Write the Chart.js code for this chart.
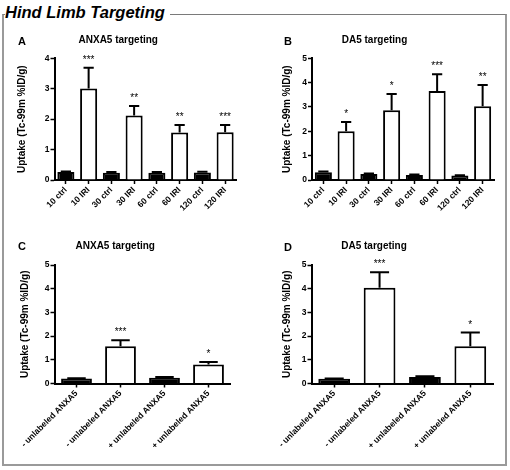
<!DOCTYPE html>
<html>
<head>
<meta charset="utf-8">
<script src="https://cdn.jsdelivr.net/npm/chart.js@4.4.0/dist/chart.umd.min.js"></script>
<style>
    html, body { margin: 0; padding: 0; background: #fff; }
    #page { position: relative; width: 510px; height: 470px; overflow: hidden; font-family: Arial, "Liberation Sans", sans-serif; }
    #frame { position: absolute; left: 2px; top: 14px; width: 501px; height: 449px; border: 2px solid #9a9a9a; border-top: 1px solid #7a7a7a; }
    #mainTitle { position: absolute; left: 5px; top: 1px; padding-right: 5px; background: #fff; font: italic bold 16.5px Arial, "Liberation Sans", sans-serif; line-height: 22px; color: #000; }
    .panel { position: absolute; }
    .letter { position: absolute; font: bold 11px Arial, "Liberation Sans", sans-serif; line-height: 12px; color: #000; }
</style>
</head>
<body>
<div id="page">
    <div id="frame"></div>
    <div id="mainTitle">Hind Limb Targeting</div>

    <div class="panel" style="left:0;top:28px;"><canvas id="chartA" width="255" height="212"></canvas></div>
    <div class="panel" style="left:255px;top:28px;"><canvas id="chartB" width="255" height="212"></canvas></div>
    <div class="panel" style="left:0;top:233px;"><canvas id="chartC" width="255" height="232"></canvas></div>
    <div class="panel" style="left:255px;top:233px;"><canvas id="chartD" width="255" height="232"></canvas></div>

    <div class="letter" style="left:18px;top:35px;">A</div>
    <div class="letter" style="left:284px;top:35px;">B</div>
    <div class="letter" style="left:18px;top:240px;">C</div>
    <div class="letter" style="left:284px;top:241px;">D</div>
</div>

<script>
(function () {
    'use strict';

    // =================== Datos ===================

    const timeGroups = ['10 ctrl', '10 IRI', '30 ctrl', '30 IRI', '60 ctrl', '60 IRI', '120 ctrl', '120 IRI'];
    const blockGroups = ['- unlabeled ANXA5', '- unlabeled ANXA5', '+ unlabeled ANXA5', '+ unlabeled ANXA5'];

    const yTicksA = [0, 1, 2, 3, 4];
    const yTicksBCD = [0, 1, 2, 3, 4, 5];

    // A: ANXA5 targeting
    const anxa5Means = [0.26, 3.01, 0.24, 2.12, 0.24, 1.56, 0.25, 1.57];
    const anxa5Errors = [0.02, 0.68, 0.02, 0.31, 0.02, 0.25, 0.02, 0.24];
    const anxa5Stars = ['', '***', '', '**', '', '**', '', '***'];

    // B: DA5 targeting
    const da5Means = [0.32, 2.00, 0.25, 2.87, 0.21, 3.66, 0.18, 3.03];
    const da5Errors = [0.03, 0.38, 0.02, 0.66, 0.02, 0.68, 0.02, 0.87];
    const da5Stars = ['', '*', '', '*', '', '***', '', '**'];

    // C: ANXA5 targeting (bloqueo)
    const anxa5BlockMeans = [0.21, 1.57, 0.24, 0.80];
    const anxa5BlockErrors = [0.01, 0.25, 0.03, 0.11];
    const anxa5BlockStars = ['', '***', '', '*'];

    // D: DA5 targeting (bloqueo)
    const da5BlockMeans = [0.20, 4.04, 0.27, 1.57];
    const da5BlockErrors = [0.01, 0.65, 0.04, 0.58];
    const da5BlockStars = ['', '***', '', '*'];

    // =================== Plugin barras de error ===================

    const errorBarsPlugin = {
        id: 'errorBars',
        afterDatasetsDraw(chart, args, opts) {
            const ctx = chart.ctx;
            const y = chart.scales.y;
            const meta = chart.getDatasetMeta(0);
            const values = chart.data.datasets[0].data;
            const errors = opts.errors || [];
            const stars = opts.stars || [];

            ctx.save();
            ctx.strokeStyle = '#000';
            ctx.fillStyle = '#000';
            ctx.lineWidth = 2;
            meta.data.forEach(function (bar, i) {
                const err = errors[i] || 0;
                const yTop = y.getPixelForValue(values[i] + err);
                const half = bar.width * 0.3;
                if (err > 0) {
                    ctx.beginPath();
                    ctx.moveTo(bar.x, bar.y);
                    ctx.lineTo(bar.x, yTop);
                    ctx.moveTo(bar.x - half, yTop);
                    ctx.lineTo(bar.x + half, yTop);
                    ctx.stroke();
                }
                if (stars[i]) {
                    ctx.font = '10px Arial, "Liberation Sans", sans-serif';
                    ctx.textAlign = 'center';
                    ctx.textBaseline = 'alphabetic';
                    ctx.fillText(stars[i], bar.x, yTop - 5);
                }
            });
            ctx.restore();
        }
    };

    // =================== Charts ===================

    function buildPanel(id, title, labels, values, errors, stars, yTicks, lay) {
        const canvas = document.getElementById(id);
        if (!canvas || typeof Chart === 'undefined') return null;

        const yMax = yTicks[yTicks.length - 1];

        return new Chart(canvas.getContext('2d'), {
            type: 'bar',
            data: {
                labels: labels,
                datasets: [{
                    data: values,
                    backgroundColor: values.map((v, i) => i % 2 === 0 ? '#000' : '#fff'),
                    borderColor: '#000',
                    borderWidth: 2,
                    borderSkipped: 'bottom',
                    barPercentage: lay.barPct,
                    categoryPercentage: 1
                }]
            },
            options: {
                responsive: false,
                animation: false,
                layout: { padding: { left: 0, right: lay.padRight, top: 0, bottom: 0 } },
                plugins: {
                    legend: { display: false },
                    tooltip: { enabled: false },
                    title: {
                        display: true,
                        text: title,
                        color: '#000',
                        font: { family: 'Arial, "Liberation Sans", sans-serif', size: 10, weight: 'bold' },
                        padding: { top: lay.titleTop, bottom: lay.titleBottom }
                    },
                    errorBars: { errors: errors, stars: stars }
                },
                scales: {
                    x: {
                        afterFit: function (s) { s.height = lay.xHeight; },
                        border: { display: true, color: '#000', width: 2 },
                        grid: {
                            display: true,
                            drawOnChartArea: false,
                            offset: false,
                            tickLength: 4,
                            tickColor: '#000',
                            tickWidth: 1.5
                        },
                        ticks: {
                            color: '#000',
                            minRotation: 45,
                            maxRotation: 45,
                            autoSkip: false,
                            padding: 1,
                            font: { family: 'Arial, "Liberation Sans", sans-serif', size: 8.5, weight: 'bold' }
                        }
                    },
                    y: {
                        min: 0,
                        max: yMax,
                        afterFit: function (s) { s.width = lay.yWidth; },
                        afterBuildTicks: function (s) { s.ticks = yTicks.map(v => ({ value: v })); },
                        border: { display: true, color: '#000', width: 2 },
                        grid: {
                            display: true,
                            drawOnChartArea: false,
                            tickLength: 4,
                            tickColor: '#000',
                            tickWidth: 1.5
                        },
                        ticks: {
                            color: '#000',
                            padding: 1,
                            font: { family: 'Arial, "Liberation Sans", sans-serif', size: 8.5, weight: 'bold' }
                        },
                        title: {
                            display: true,
                            text: 'Uptake (Tc-99m %ID/g)',
                            color: '#000',
                            font: { family: 'Arial, "Liberation Sans", sans-serif', size: 10, weight: 'bold' },
                            padding: { top: lay.yTitlePad, bottom: 0 }
                        }
                    }
                }
            },
            plugins: [errorBarsPlugin]
        });
    }

    // =================== Init ===================

    const topRow = { titleTop: 6.7, titleBottom: 11.6, xHeight: 60 };
    const bottomRow = { titleTop: 7, titleBottom: 13, xHeight: 81.5 };

    buildPanel('chartA', 'ANXA5 targeting', timeGroups, anxa5Means, anxa5Errors, anxa5Stars, yTicksA,
        Object.assign({ yWidth: 54.5, padRight: 18.5, yTitlePad: 16, barPct: 0.75 }, topRow));
    buildPanel('chartB', 'DA5 targeting', timeGroups, da5Means, da5Errors, da5Stars, yTicksBCD,
        Object.assign({ yWidth: 57, padRight: 16, yTitlePad: 26, barPct: 0.75 }, topRow));
    buildPanel('chartC', 'ANXA5 targeting', blockGroups, anxa5BlockMeans, anxa5BlockErrors, anxa5BlockStars, yTicksBCD,
        Object.assign({ yWidth: 54.5, padRight: 24.5, yTitlePad: 19, barPct: 0.7 }, bottomRow));
    buildPanel('chartD', 'DA5 targeting', blockGroups, da5BlockMeans, da5BlockErrors, da5BlockStars, yTicksBCD,
        Object.assign({ yWidth: 56.5, padRight: 17, yTitlePad: 26, barPct: 0.7 }, bottomRow));

})();
</script>
</body>
</html>
